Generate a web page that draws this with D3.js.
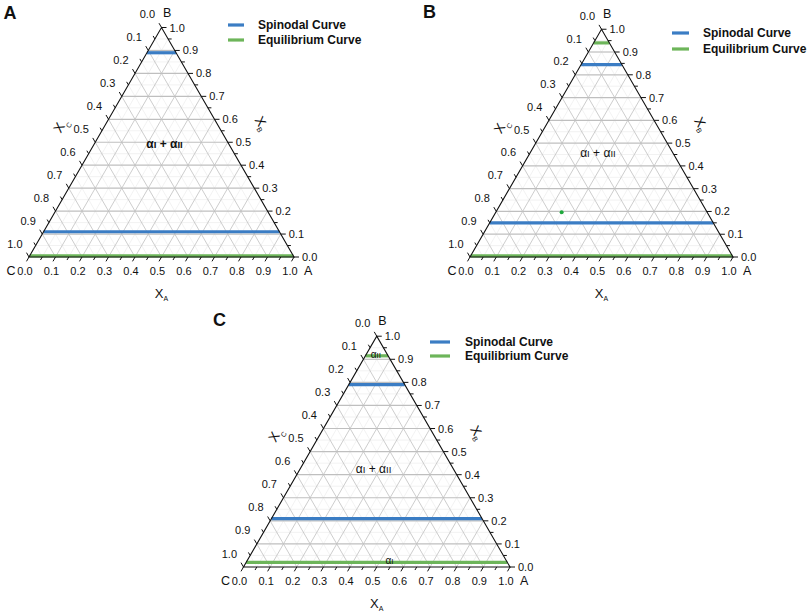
<!DOCTYPE html>
<html><head><meta charset="utf-8">
<script src="https://cdn.jsdelivr.net/npm/d3@7"></script>
<style>
body{margin:0;background:#fff}
svg{display:block}
text{font-family:"Liberation Sans",Arial,sans-serif;fill:#111}
</style>
</head><body><svg id="chart" width="809" height="614"></svg>
<script>
// ---------- data ----------
const panelIds = ["A", "B", "C"];
const tickValues = d3.range(0, 11).map(i => i / 10);
const minorTickValues = d3.range(0, 21).map(i => i / 20);
const tickLabels = tickValues.map(v => v.toFixed(1));
const vertexNames = ["A", "B", "C"];
const legendLabels = ["Spinodal Curve", "Equilibrium Curve"];
// constant-X_B levels of the curves in each panel
const spinodalXB = [[0.89, 0.11], [0.845, 0.15], [0.79, 0.21]];
const equilibriumXB = [[0.005], [0.94, 0.005], [0.915, 0.02]];
// single composition point (panel B)
const pointXA = [[], [0.25], []];
const pointXB = [[], [0.197], []];
// phase region labels, anchored at ternary coordinates
const regionTexts = [["αI + αII"], ["αI + αII"], ["αII", "αI + αII", "αI"]];
const regionXA = [[0.274], [0.267], [0.044, 0.2845, 0.541]];
const regionXB = [[0.475], [0.439], [0.906, 0.407, 0.013]];

// ---------- layout ----------
const layout = [
  {cx: 29, cy: 257, side: 265, letter: [3.5, 18.5], leg: {x0: 228, x1: 244, y: [25, 40], tx: 258}, regionBold: true, regionSize: [12]},
  {cx: 470, cy: 257, side: 263, letter: [423, 17.5], leg: {x0: 672, x1: 689, y: [33, 49], tx: 703}, regionBold: false, regionSize: [12]},
  {cx: 243.5, cy: 567, side: 266.5, letter: [213, 326], leg: {x0: 430, x1: 450, y: [342, 356], tx: 465}, regionBold: false, regionSize: [10, 12, 10]}
];
const BLUE = "#3b7dc4", GREEN = "#6db55a";

const svg = d3.select("#chart");

function drawRegionLabel(g, str, x, y, size, bold) {
  const t = g.append("text").attr("x", x).attr("y", y).attr("text-anchor", "middle")
    .attr("font-size", size).attr("font-weight", bold ? "bold" : "normal").attr("fill", "#222");
  const parts = str.match(/I+|[^I]+/g);
  parts.forEach(p => {
    const ts = t.append("tspan").text(p);
    if (p[0] === "I") ts.attr("font-size", size * 0.8);
  });
}

panelIds.forEach((id, i) => {
  const geo = layout[i];
  const h = geo.side * Math.sqrt(3) / 2;
  const sx = d3.scaleLinear().domain([0, 1]).range([geo.cx, geo.cx + geo.side]);
  const sy = d3.scaleLinear().domain([0, 1]).range([geo.cy, geo.cy - h]);
  const P = (xa, xb) => [sx(xa + xb / 2), sy(xb)];
  const line = d3.line();
  const g = svg.append("g");

  // minor grid
  const minorG = g.append("g").attr("stroke", "#ececec").attr("stroke-width", 0.7).attr("fill", "none");
  minorTickValues.filter((v, k) => k % 2 === 1).forEach(v => {
    minorG.append("path").attr("d", line([P(0, v), P(1 - v, v)]));
    minorG.append("path").attr("d", line([P(v, 0), P(v, 1 - v)]));
    minorG.append("path").attr("d", line([P(1 - v, 0), P(0, 1 - v)]));
  });
  // major grid
  const gridG = g.append("g").attr("fill", "none");
  tickValues.filter(v => v > 0 && v < 1).forEach(v => {
    gridG.append("path").attr("d", line([P(0, v), P(1 - v, v)])).attr("stroke", "#bfbfbf").attr("stroke-width", 1.2);
    gridG.append("path").attr("d", line([P(v, 0), P(v, 1 - v)])).attr("stroke", "#c0c0c0").attr("stroke-width", 0.8);
    gridG.append("path").attr("d", line([P(1 - v, 0), P(0, 1 - v)])).attr("stroke", "#c0c0c0").attr("stroke-width", 0.8);
  });

  // curves
  spinodalXB[i].forEach(v => {
    g.append("path").attr("d", line([P(0, v), P(1 - v, v)])).attr("stroke", BLUE).attr("stroke-width", 3.2).attr("fill", "none");
  });
  equilibriumXB[i].forEach(v => {
    g.append("path").attr("d", line([P(0, v), P(1 - v, v)])).attr("stroke", GREEN).attr("stroke-width", 3.2).attr("fill", "none");
  });
  pointXA[i].forEach((xa, k) => {
    const p = P(xa, pointXB[i][k]);
    g.append("circle").attr("cx", p[0]).attr("cy", p[1]).attr("r", 2).attr("fill", "#1ea83c");
  });

  // triangle frame
  g.append("path").attr("d", line([P(0, 0), P(1, 0), P(0, 1)]) + "Z")
    .attr("fill", "none").attr("stroke", "#111").attr("stroke-width", 1.1);

  // ticks
  const tickG = g.append("g").attr("stroke", "#111").attr("stroke-width", 1);
  const c60 = 0.5, s60 = Math.sqrt(3) / 2;
  minorTickValues.forEach((v, k) => {
    const len = k % 2 === 0 ? 5 : 3.5;
    let b = P(v, 0);
    tickG.append("path").attr("d", line([b, [b[0] - c60 * len, b[1] + s60 * len]]));
    b = P(1 - v, v);
    tickG.append("path").attr("d", line([b, [b[0] + len, b[1]]]));
    b = P(0, 1 - v);
    tickG.append("path").attr("d", line([b, [b[0] - c60 * len, b[1] - s60 * len]]));
  });

  // tick labels
  const lab = g.append("g").attr("font-size", 11);
  tickValues.forEach((v, k) => {
    let b = P(v, 0);
    lab.append("text").attr("x", b[0] - 4).attr("y", b[1] + 17.5).attr("text-anchor", "middle").text(tickLabels[k]);
    b = P(1 - v, v);
    lab.append("text").attr("x", b[0] + 8).attr("y", b[1] + 4).attr("text-anchor", "start").text(tickLabels[k]);
    b = P(0, 1 - v);
    lab.append("text").attr("x", b[0] - 6.5).attr("y", b[1] - 9.5).attr("text-anchor", "end").text(tickLabels[k]);
  });

  // vertex labels
  const vA = P(1, 0), vB = P(0, 1), vC = P(0, 0);
  g.append("text").attr("x", vA[0] + 10).attr("y", vA[1] + 18).attr("font-size", 12.5).text(vertexNames[0]);
  g.append("text").attr("x", vB[0] + 1.5).attr("y", vB[1] - 11).attr("font-size", 12.5).text(vertexNames[1]);
  g.append("text").attr("x", vC[0] - 13.5).attr("y", vC[1] + 18).attr("font-size", 12.5).attr("text-anchor", "end").text(vertexNames[2]);

  // axis titles
  const bt = g.append("text").attr("x", vB[0]).attr("y", vC[1] + 41).attr("text-anchor", "middle").attr("font-size", 13);
  bt.append("tspan").text("X");
  bt.append("tspan").attr("font-size", 7).attr("dy", 3).text("A");

  const lm = P(0, 0.5);
  const lt = g.append("text").attr("transform", `translate(${lm[0] - 35},${lm[1] - 17}) rotate(-60)`)
    .attr("text-anchor", "middle").attr("dy", "0.35em").attr("font-size", 13.5);
  lt.append("tspan").text("X");
  lt.append("tspan").attr("font-size", 7).attr("dy", 5).text("C");

  const rm = P(0.5, 0.5);
  const rt = g.append("text").attr("transform", `translate(${rm[0] + 34},${rm[1] - 19}) rotate(60)`)
    .attr("text-anchor", "middle").attr("dy", "0.35em").attr("font-size", 13.5);
  rt.append("tspan").text("X");
  rt.append("tspan").attr("font-size", 7).attr("dy", 3).text("B");

  // region labels
  regionTexts[i].forEach((s, k) => {
    const p = P(regionXA[i][k], regionXB[i][k]);
    drawRegionLabel(g, s, p[0], p[1], geo.regionSize[k], geo.regionBold);
  });

  // legend
  const L = geo.leg;
  [BLUE, GREEN].forEach((col, k) => {
    g.append("line").attr("x1", L.x0).attr("x2", L.x1).attr("y1", L.y[k]).attr("y2", L.y[k])
      .attr("stroke", col).attr("stroke-width", 3.2);
    g.append("text").attr("x", L.tx).attr("y", L.y[k] + 4).attr("font-size", 12).attr("font-weight", "bold")
      .attr("fill", "#222").text(legendLabels[k]);
  });

  // panel letter
  svg.append("text").attr("x", geo.letter[0]).attr("y", geo.letter[1]).attr("font-size", 18)
    .attr("font-weight", "bold").attr("fill", "#000").text(id);
});
</script>
</body></html>
